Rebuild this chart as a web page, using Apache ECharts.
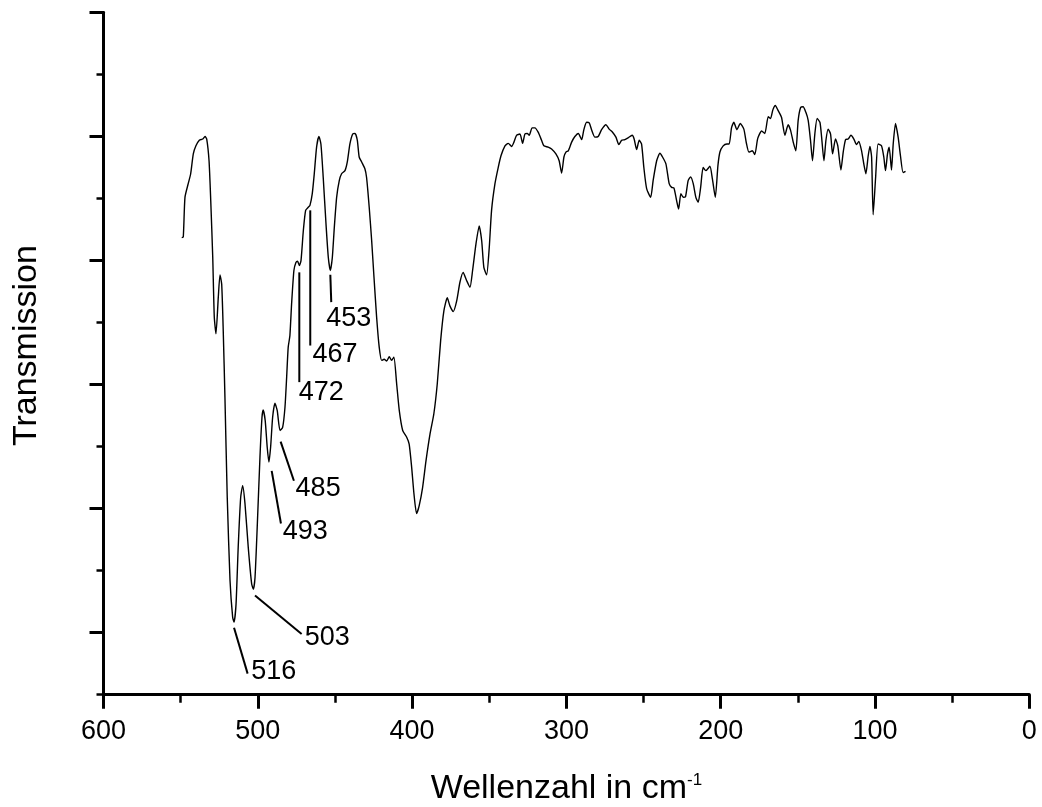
<!DOCTYPE html>
<html>
<head>
<meta charset="utf-8">
<script src="https://cdn.jsdelivr.net/npm/echarts@6/dist/echarts.min.js"></script>
<style>
html,body{margin:0;padding:0;background:#fff;}
#chart{width:1042px;height:807px;}
</style>
</head>
<body>
<div id="chart"></div>
<script>
// Wavenumber (cm^-1) of the traced spectrum points
const wavenumber = [549.3, 548.3, 547.2, 545.1, 543.5, 541.8, 540.1, 537.9, 535.7, 534.2,
 533.1, 531.6, 530.5, 529.2, 528.2, 527.1, 525.6, 524.5, 523.4, 522.4,
 521.3, 519.8, 518.0, 516.3, 515.4, 514.1, 512.7, 511.1, 509.8, 508.3,
 506.2, 504.0, 502.9, 501.8, 500.3, 498.6, 497.3, 496.5, 495.2, 493.9,
 492.8, 491.7, 490.4, 488.9, 487.4, 485.6, 483.9, 482.4, 481.3, 480.3,
 479.2, 478.1, 476.6, 475.3, 474.2, 473.1, 472.0, 470.5, 469.0, 467.3,
 466.2, 464.7, 463.4, 461.9, 460.4, 459.1, 457.6, 455.8, 454.3, 453.0,
 451.7, 450.4, 448.9, 447.2, 445.7, 443.5, 442.0, 440.3, 438.5, 437.0,
 435.5, 434.3, 432.7, 430.6, 429.5, 427.8, 426.2, 424.7, 423.0, 421.3,
 419.7, 418.1, 416.5, 414.8, 413.3, 411.8, 410.0, 408.3, 406.1, 403.5,
 401.9, 400.3, 398.8, 397.1, 395.4, 393.2, 391.0, 388.4, 385.9, 383.7,
 381.5, 379.4, 377.2, 375.5, 373.3, 371.1, 369.0, 366.9, 364.7, 362.5,
 360.8, 358.6, 356.5, 354.9, 353.5, 351.7, 350.0, 348.5, 346.3, 344.2,
 342.4, 339.8, 337.7, 335.5, 334.0, 332.3, 330.1, 328.4, 326.9, 325.4,
 324.1, 322.2, 320.4, 318.3, 316.1, 314.6, 311.8, 309.6, 306.8, 304.7,
 303.1, 301.6, 300.3, 298.8, 296.6, 294.5, 292.3, 290.1, 288.7, 286.9,
 285.2, 283.7, 281.5, 279.4, 277.2, 274.4, 272.3, 270.1, 267.9, 266.0,
 264.2, 262.1, 260.0, 257.4, 256.1, 254.5, 252.8, 251.3, 249.8, 248.0,
 245.4, 243.8, 241.5, 239.4, 237.7, 235.5, 233.4, 231.8, 230.3, 228.6,
 227.3, 225.8, 224.3, 222.8, 221.1, 219.5, 217.8, 216.1, 214.6, 213.0,
 211.4, 209.6, 207.0, 205.4, 203.5, 201.8, 200.5, 198.4, 196.0, 194.5,
 193.0, 191.5, 189.5, 187.3, 185.0, 183.4, 181.7, 179.5, 177.9, 176.0,
 173.5, 171.4, 169.2, 167.7, 166.2, 164.6, 163.0, 160.6, 158.4, 156.3,
 154.7, 153.0, 151.3, 149.8, 148.2, 146.6, 144.8, 143.3, 141.8, 140.5,
 139.0, 137.5, 135.7, 134.6, 133.1, 131.8, 130.4, 128.8, 127.5, 125.6,
 124.1, 122.1, 120.6, 119.1, 117.4, 115.6, 113.7, 112.0, 110.5, 108.7,
 107.2, 105.9, 104.4, 103.3, 102.2, 101.2, 99.6, 98.0, 95.8, 94.3,
 93.2, 91.9, 90.8, 89.3, 88.2, 86.7, 85.0, 83.5, 81.8, 80.2];

// Transmission (arbitrary %, no labels on the axis)
const transmission = [63.7, 63.8, 70.2, 72.4, 74.0, 77.2, 78.5, 79.4, 79.6, 80.0,
 79.6, 76.1, 69.7, 60.5, 50.9, 48.2, 54.1, 57.7, 56.2, 48.7,
 38.0, 21.8, 8.4, 2.5, 1.7, 4.6, 13.8, 21.8, 23.7, 20.8,
 13.8, 7.9, 7.0, 8.9, 17.5, 28.3, 34.7, 35.9, 34.2, 29.9,
 27.5, 29.9, 34.7, 37.0, 35.8, 32.6, 33.1, 36.3, 41.2, 46.0,
 47.9, 53.0, 58.4, 59.7, 59.9, 59.2, 60.0, 64.8, 68.1, 68.6,
 68.9, 70.8, 74.0, 78.3, 80.0, 78.8, 73.4, 65.9, 60.5, 58.4,
 60.5, 65.4, 70.2, 72.9, 74.0, 74.5, 75.9, 78.8, 80.4, 80.5,
 79.4, 76.7, 75.9, 74.8, 73.4, 68.6, 63.2, 57.3, 50.9, 46.0,
 43.9, 44.1, 43.8, 44.5, 43.9, 44.4, 40.1, 35.8, 32.6, 31.5,
 30.4, 26.7, 22.4, 19.2, 20.5, 23.4, 27.7, 32.0, 35.3, 40.1,
 47.1, 51.9, 54.0, 52.7, 51.8, 53.5, 56.5, 58.1, 56.8, 55.7,
 58.4, 62.7, 65.6, 63.2, 58.9, 57.7, 62.1, 68.1, 72.4, 75.0,
 76.9, 78.5, 78.9, 78.4, 79.1, 80.2, 80.4, 78.9, 80.4, 80.5,
 80.2, 81.4, 81.4, 80.7, 79.4, 78.5, 78.3, 78.0, 77.2, 76.1,
 74.1, 76.7, 77.5, 77.7, 79.1, 80.0, 80.5, 79.5, 81.1, 82.3,
 82.2, 81.1, 79.9, 80.0, 81.1, 81.9, 81.2, 80.7, 79.9, 78.7,
 79.4, 79.5, 79.8, 80.2, 79.6, 77.9, 79.4, 78.8, 75.0, 71.6,
 70.2, 72.9, 76.1, 77.3, 76.7, 75.6, 72.4, 71.8, 71.7, 69.7,
 68.3, 70.8, 70.2, 70.3, 72.9, 73.5, 72.4, 70.2, 69.4, 71.8,
 75.0, 74.5, 75.2, 73.2, 70.2, 75.3, 77.5, 78.5, 78.8, 78.8,
 81.4, 82.3, 81.1, 82.1, 81.2, 79.0, 77.5, 77.7, 77.1, 79.7,
 80.9, 80.5, 83.2, 82.9, 84.3, 85.0, 84.3, 83.1, 80.2, 81.9,
 81.0, 79.1, 77.7, 82.6, 84.7, 84.8, 83.9, 82.6, 79.4, 76.1,
 80.4, 82.9, 82.3, 79.9, 76.1, 79.4, 81.2, 80.4, 77.2, 79.6,
 78.5, 74.6, 77.5, 79.5, 79.6, 80.2, 79.6, 78.7, 79.2, 77.7,
 75.5, 74.0, 76.9, 78.4, 76.7, 67.4, 73.4, 78.8, 78.5, 76.7,
 74.5, 77.2, 78.3, 74.6, 78.8, 82.1, 79.9, 76.9, 74.2, 74.4];

// Peak annotations: label text, leader line start/end and label anchor (data units)
const peakLabels  = ['453', '467', '472', '485', '493', '503', '516'];
const leaderStart = [[453.0, 57.7], [466.0, 68.1], [473.1, 58.1], [485.2, 30.8], [491.0, 26.1], [501.8, 6.0], [515.4, 0.8]];
const leaderEnd   = [[452.4, 53.3], [466.0, 46.3], [473.1, 40.4], [476.6, 24.5], [485.0, 17.6], [471.6, -0.2], [506.6, -6.6]];
const labelAnchor = [[455.6, 50.6], [464.6, 44.8], [473.5, 38.7], [475.5, 23.2], [483.9, 16.3], [469.6, -0.8], [504.2, -6.3]];

// Axis ranges / tick values
const xMin = 0, xMax = 600, xStep = 100;
const yMin = -10, yMax = 100, yMinorStep = 10;
const yTickValues = ['100', '90', '80', '70', '60', '50', '40', '30', '20', '10', '0', '-10'];

const FONT = '"Liberation Sans", Arial, Helvetica, sans-serif';

const spectrum = wavenumber.map((w, i) => [w, transmission[i]]);
const annotations = peakLabels.map((t, i) => [
  leaderStart[i][0], leaderStart[i][1], leaderEnd[i][0], leaderEnd[i][1],
  labelAnchor[i][0], labelAnchor[i][1], t
]);

const chart = echarts.init(document.getElementById('chart'), null, {renderer: 'canvas'});
const axisLineStyle = {color: '#000', width: 3};

chart.setOption({
  backgroundColor: '#fff',
  animation: false,
  grid: {left: 103.5, right: 12.7, top: 12.5, bottom: 112.3, containLabel: false, outerBoundsMode: 'none'},
  xAxis: {
    type: 'value', min: xMin, max: xMax, interval: xStep, inverse: true,
    name: '{base|Wellenzahl in cm}{sup|-1}',
    nameLocation: 'middle', nameGap: 77,
    nameTextStyle: {
      rich: {
        base: {fontSize: 34, fontFamily: FONT, color: '#000'},
        sup: {fontSize: 17, fontFamily: FONT, color: '#000', verticalAlign: 'top'}
      }
    },
    axisLine: {show: true, onZero: false, lineStyle: axisLineStyle},
    axisTick: {show: true, inside: false, length: 14, lineStyle: {color: '#000', width: 3}},
    minorTick: {show: true, splitNumber: 2, length: 8, lineStyle: {color: '#000', width: 2.5}},
    axisLabel: {show: true, fontSize: 27, fontFamily: FONT, color: '#000', margin: 23},
    splitLine: {show: false}, minorSplitLine: {show: false}
  },
  yAxis: [
    {
      type: 'value', min: yMin, max: yMax, interval: yMinorStep, position: 'left',
      name: 'Transmission', nameLocation: 'middle', nameGap: 60, nameRotate: 90,
      nameTextStyle: {fontSize: 34, fontFamily: FONT, color: '#000', padding: [0, 0, 0, 16]},
      axisLine: {show: true, onZero: false, lineStyle: axisLineStyle},
      axisTick: {show: true, inside: false, length: 7, lineStyle: {color: '#000', width: 2.5}},
      axisLabel: {show: false},
      splitLine: {show: false}
    },
    {
      type: 'category', data: yTickValues, inverse: false, boundaryGap: false, position: 'left',
      axisLine: {show: true, onZero: false, lineStyle: axisLineStyle},
      axisTick: {show: true, inside: false, length: 14, interval: (i) => i % 2 === 1,
                 lineStyle: {color: '#000', width: 3}},
      axisLabel: {show: false},
      splitLine: {show: false}
    }
  ],
  series: [
    {
      type: 'line', data: spectrum, xAxisIndex: 0, yAxisIndex: 0,
      showSymbol: false, symbol: 'none', smooth: 0.2,
      lineStyle: {color: '#000', width: 1.4},
      silent: true
    },
    {
      type: 'custom', xAxisIndex: 0, yAxisIndex: 0, data: annotations, clip: false, silent: true,
      encode: {x: [0, 2, 4], y: [1, 3, 5]},
      renderItem: function (params, api) {
        const a = api.coord([api.value(0), api.value(1)]);
        const b = api.coord([api.value(2), api.value(3)]);
        const c = api.coord([api.value(4), api.value(5)]);
        const txt = annotations[params.dataIndex][6];
        return {
          type: 'group',
          children: [
            {type: 'line', shape: {x1: a[0], y1: a[1], x2: b[0], y2: b[1]},
             style: {stroke: '#000', lineWidth: 2}},
            {type: 'text', x: c[0], y: c[1],
             style: {text: txt, fontSize: 27, fontFamily: FONT, fill: '#000',
                     align: 'left', verticalAlign: 'middle'}}
          ]
        };
      }
    }
  ]
});
</script>
</body>
</html>
